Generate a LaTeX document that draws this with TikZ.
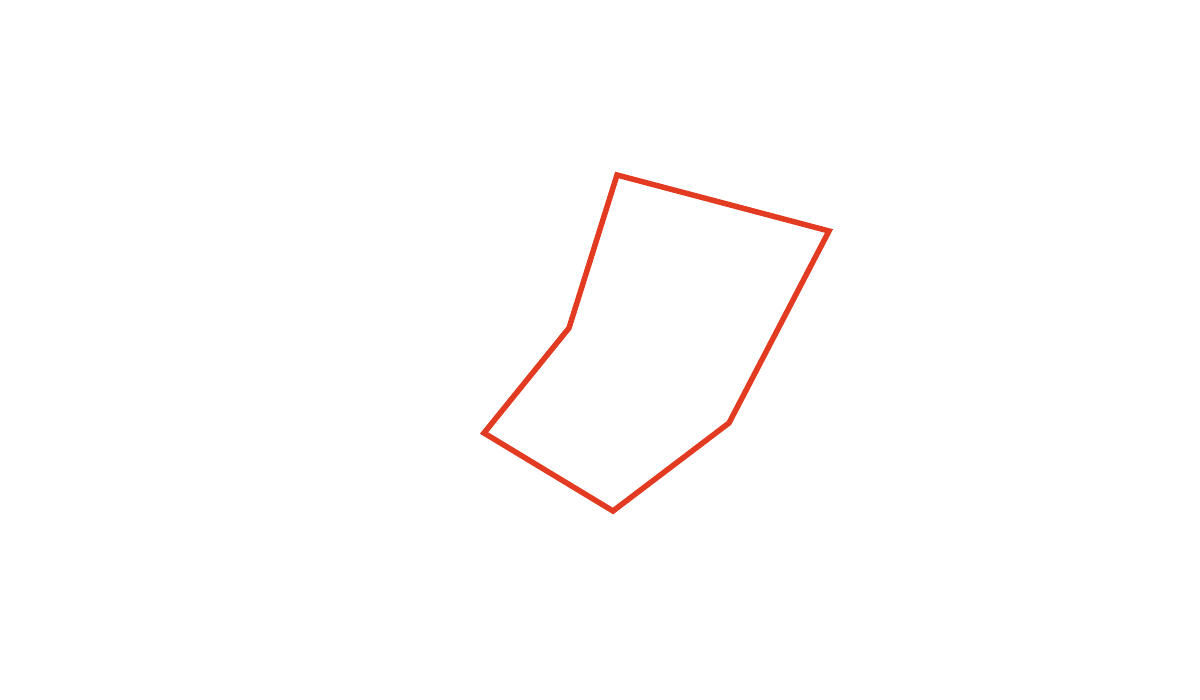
\documentclass[tikz,border=0pt]{standalone}
\usepackage{tikz}
\definecolor{edgered}{HTML}{E23B22}
\begin{document}
\begin{tikzpicture}[x=1pt, y=-1pt, thick, outline/.style = {draw=edgered, line width=5.5pt, line join=miter}]
			\useasboundingbox (0,0) rectangle (1200,700);
			\coordinate (1) at (617,175);
			\coordinate (2) at (829,231);
			\coordinate (3) at (729,423);
			\coordinate (4) at (613,511);
			\coordinate (5) at (484,433);
			\coordinate (6) at (569,328);
			
			\draw[outline] (1) -- (2) -- (3) -- (4) -- (5) -- (6) -- cycle;
		\end{tikzpicture}
\end{document}
